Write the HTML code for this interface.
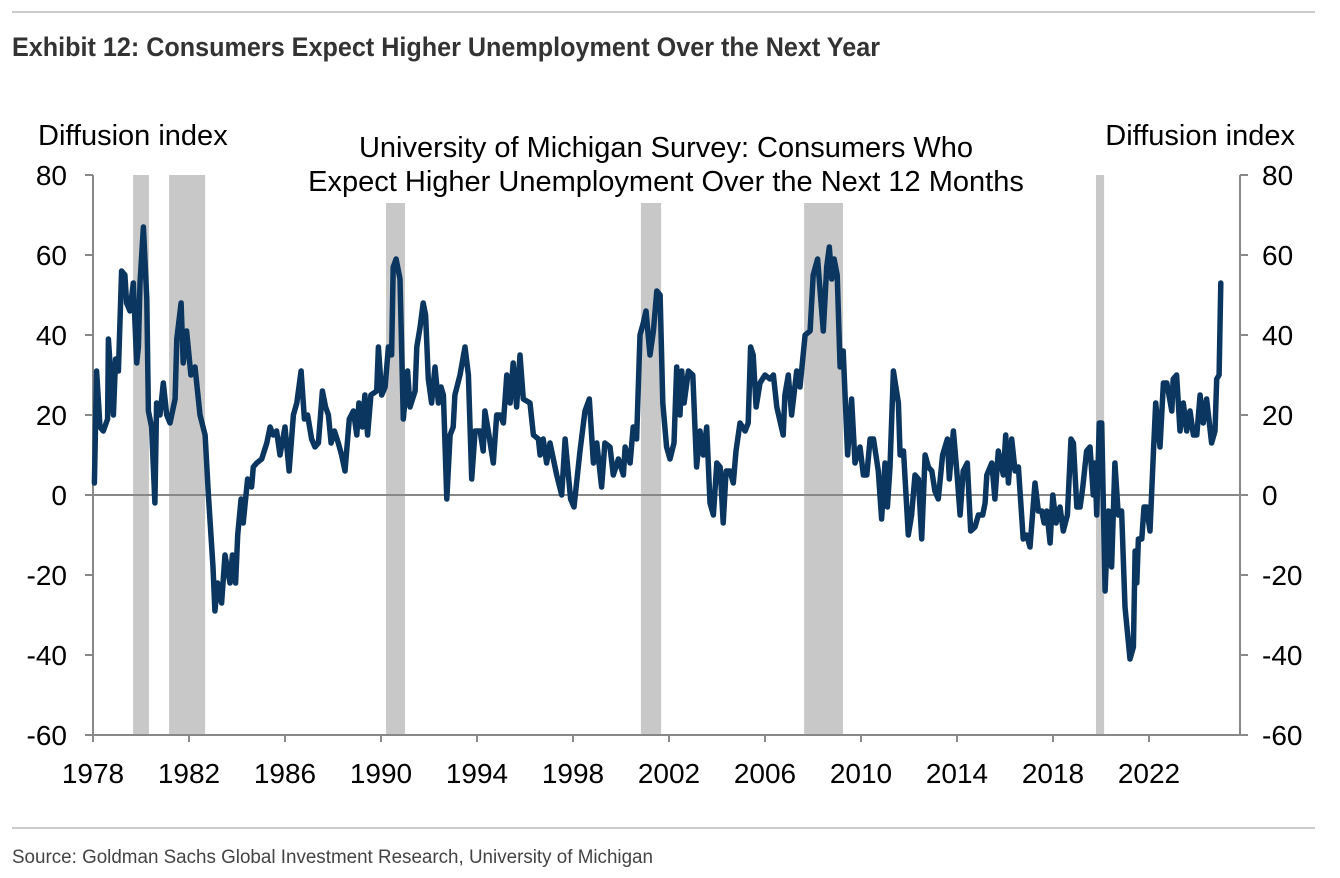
<!DOCTYPE html>
<html><head><meta charset="utf-8"><style>
body{margin:0;background:#fff;width:1340px;height:878px;overflow:hidden;font-family:"Liberation Sans",Arial,sans-serif}
svg{display:block}
</style></head><body>
<svg id="chart" width="1340" height="878">
<line x1="12" y1="12" x2="1315" y2="12" stroke="#999" stroke-width="1"/>
<text x="12" y="56" font-family="'Liberation Sans Narrow','Liberation Sans',sans-serif" font-weight="bold" font-size="27" fill="#333" textLength="868" lengthAdjust="spacingAndGlyphs">Exhibit 12: Consumers Expect Higher Unemployment Over the Next Year</text>
<text x="38" y="145" font-size="29" fill="#000">Diffusion index</text>
<text x="1295" y="145" font-size="29" fill="#000" text-anchor="end">Diffusion index</text>
<text x="666" y="157" font-size="29" fill="#000" text-anchor="middle">University of Michigan Survey: Consumers Who</text>
<text x="666" y="191" font-size="29" fill="#000" text-anchor="middle">Expect Higher Unemployment Over the Next 12 Months</text>
<g id="bands"></g>
<g id="axes"></g>
<g id="series"></g>
<line x1="12" y1="828" x2="1315" y2="828" stroke="#999" stroke-width="1"/>
<text x="12" y="863" font-family="'Liberation Sans Narrow','Liberation Sans',sans-serif" font-size="19" fill="#444" textLength="641" lengthAdjust="spacingAndGlyphs">Source: Goldman Sachs Global Investment Research, University of Michigan</text>
</svg>
<script>
const recessionStarts=[1979.67,1981.17,1990.21,2000.83,2007.63,2019.79];
const recessionEnds=[1980.33,1982.67,1991.0,2001.67,2009.25,2020.13];
const yTicks=[80,60,40,20,0,-20,-40,-60];
const xTicks=[1978,1982,1986,1990,1994,1998,2002,2006,2010,2014,2018,2022];
const years=[1978.06,1978.15,1978.29,1978.43,1978.61,1978.64,1978.85,1978.94,1979.06,1979.19,1979.33,1979.4,1979.54,1979.68,1979.82,1979.89,1979.96,1980.1,1980.24,1980.31,1980.44,1980.58,1980.65,1980.79,1980.93,1981.07,1981.21,1981.42,1981.49,1981.67,1981.76,1981.9,1982.08,1982.25,1982.46,1982.67,1982.81,1983.0,1983.08,1983.19,1983.36,1983.5,1983.71,1983.81,1983.94,1984.03,1984.17,1984.26,1984.44,1984.61,1984.68,1984.82,1985.03,1985.24,1985.38,1985.51,1985.65,1985.79,1986.0,1986.17,1986.35,1986.49,1986.67,1986.81,1986.94,1987.11,1987.25,1987.39,1987.56,1987.69,1987.81,1987.92,1988.06,1988.22,1988.36,1988.5,1988.68,1988.85,1988.99,1989.08,1989.22,1989.33,1989.44,1989.58,1989.82,1989.89,1990.03,1990.17,1990.31,1990.44,1990.51,1990.63,1990.79,1990.93,1991.11,1991.21,1991.42,1991.49,1991.63,1991.76,1991.86,1991.97,1992.11,1992.25,1992.39,1992.5,1992.6,1992.74,1992.88,1993.01,1993.08,1993.29,1993.5,1993.64,1993.78,1993.92,1994.06,
1994.13,1994.26,1994.33,1994.47,1994.68,1994.82,1994.96,1995.1,1995.24,1995.38,1995.51,1995.65,1995.79,1995.93,1996.21,1996.35,1996.56,1996.63,1996.76,1996.9,1997.04,1997.32,1997.53,1997.67,1997.9,1998.04,1998.29,1998.5,1998.68,1998.85,1998.99,1999.19,1999.33,1999.54,1999.68,1999.89,2000.1,2000.17,2000.38,2000.51,2000.65,2000.79,2000.93,2001.04,2001.21,2001.35,2001.49,2001.63,2001.74,2001.9,2002.04,2002.21,2002.32,2002.46,2002.53,2002.63,2002.81,2002.99,2003.15,2003.29,2003.43,2003.57,2003.71,2003.85,2003.99,2004.13,2004.26,2004.38,2004.54,2004.68,2004.79,2004.96,2005.17,2005.3,2005.4,2005.51,2005.63,2005.79,2006.0,2006.21,2006.35,2006.49,2006.76,2006.83,2006.97,2007.11,2007.32,2007.46,2007.67,2007.88,2008.01,2008.19,2008.43,2008.57,2008.68,2008.78,2008.88,2009.01,2009.13,2009.26,2009.44,2009.61,2009.75,
2009.96,2010.1,2010.24,2010.38,2010.52,2010.72,2010.86,2011.0,2011.1,2011.21,2011.35,2011.56,2011.63,2011.77,2011.97,2012.11,2012.25,2012.39,2012.53,2012.67,2012.81,2012.95,2013.08,2013.22,2013.4,2013.6,2013.68,2013.85,2013.99,2014.13,2014.26,2014.43,2014.57,2014.75,2014.89,2015.07,2015.17,2015.24,2015.45,2015.58,2015.72,2015.93,2016.03,2016.14,2016.28,2016.42,2016.56,2016.76,2016.9,2017.04,2017.25,2017.39,2017.53,2017.63,2017.74,2017.88,2017.99,2018.13,2018.29,2018.43,2018.6,2018.75,2018.85,2018.99,2019.13,2019.24,2019.4,2019.54,2019.68,2019.75,2019.82,2019.93,2020.03,2020.17,2020.31,2020.44,2020.58,2020.72,2020.86,2021.0,2021.21,2021.35,2021.42,2021.49,2021.56,2021.7,2021.79,2021.9,2022.04,2022.18,2022.28,2022.46,2022.6,2022.74,2022.95,2023.01,2023.15,2023.29,2023.43,2023.57,2023.71,2023.85,2023.99,2024.13,2024.26,2024.4,2024.61,2024.75,2024.82,2024.92,2024.99];
const values=[3,31,17,16,19,39,20,34,31,56,55,48,46,53,33,37,53,67,49,21,17,-2,23,20,28,20,18,24,39,48,33,41,30,32,20,15,0,-18,-29,-22,-27,-15,-22,-15,-22,-10,-1,-7,4,2,7,8,9,13,17,15,16,10,17,6,20,23,31,19,20,14,12,13,26,22,20,13,16,13,10,6,19,21,15,23,17,25,15,25,26,37,25,27,37,35,57,59,54,19,31,22,26,37,42,48,45,29,23,32,23,27,25,-1,15,17,25,30,37,30,4,16,16,
16,11,21,16,8,20,20,18,30,23,33,22,35,24,23,15,14,10,14,8,13,5,0,14,-1,-3,11,21,24,8,13,2,13,12,5,9,5,12,8,17,14,40,43,46,35,41,51,50,23,12,9,13,32,20,31,23,31,30,7,16,10,17,-2,-5,8,7,-7,6,6,3,11,18,16,18,37,35,22,28,30,29,30,22,15,25,30,20,31,27,40,41,55,59,41,57,62,54,59,55,32,36,10,24,8,
12,5,5,14,14,6,-6,8,-3,7,31,23,10,11,-10,-5,5,4,-11,10,7,6,1,-1,10,14,4,16,6,-5,6,8,-9,-8,-5,-5,-2,5,8,-1,11,5,15,3,14,6,7,-11,-10,-13,3,-4,-4,-7,-4,-12,0,-7,-3,-9,-5,14,13,-3,-3,2,11,12,0,8,-5,18,18,-24,-4,-18,8,-5,-4,-28,-41,-38,-14,-22,-11,-11,-3,-3,-9,10,23,12,28,28,21,29,30,16,23,16,21,15,15,25,18,24,13,16,29,30,53];

const X0=93,X1=1240,Y0=175,Y1=735,PXY=24;
function xs(yr){return X0+(yr-1978)*PXY;}
function ys(v){return Y0+(80-v)*(Y1-Y0)/140;}
const NS="http://www.w3.org/2000/svg";
function mk(tag,attrs,parent){const e=document.createElementNS(NS,tag);for(const k in attrs)e.setAttribute(k,attrs[k]);parent.appendChild(e);return e;}

const bands=document.getElementById('bands');
recessionStarts.forEach((s,i)=>{
  const e=recessionEnds[i];
  const top=(s>1985&&s<2015)?203:Y0;
  const r=mk('rect',{x:xs(s),y:top,width:xs(e)-xs(s),height:Y1-top,fill:'#c8c8c8'},bands);
  
  
});

const axes=document.getElementById('axes');
const zl=mk('line',{x1:X0,y1:ys(0),x2:X1,y2:ys(0),stroke:'#888','stroke-width':2},axes);


const la=mk('line',{x1:X0,y1:Y0,x2:X0,y2:Y1,stroke:'#888','stroke-width':2},axes);


const ra=mk('line',{x1:X1,y1:Y0,x2:X1,y2:Y1,stroke:'#888','stroke-width':2},axes);


const xa=mk('line',{x1:X0,y1:Y1,x2:X1,y2:Y1,stroke:'#888','stroke-width':2},axes);


yTicks.forEach(v=>{
  const y=ys(v);
  mk('line',{x1:X0-8,y1:y,x2:X0,y2:y,stroke:'#888','stroke-width':2},axes);
  mk('line',{x1:X1,y1:y,x2:X1+8,y2:y,stroke:'#888','stroke-width':2},axes);
  const t=mk('text',{x:67,y:y+10,'font-size':28,'text-anchor':'end',fill:'#000'},axes);
  t.textContent=v;
  
  
  const t2=mk('text',{x:1262,y:y+10,'font-size':28,fill:'#000'},axes);
  t2.textContent=v;
  
  
});
xTicks.forEach(yr=>{
  const x=xs(yr);
  mk('line',{x1:x,y1:Y1,x2:x,y2:Y1+7,stroke:'#888','stroke-width':2},axes);
  const t=mk('text',{x:x,y:783,'font-size':28,'text-anchor':'middle',fill:'#000'},axes);
  t.textContent=yr;
  
  
});

const series=document.getElementById('series');
const pts=years.map((yr,i)=>xs(yr).toFixed(1)+','+ys(values[i]).toFixed(1)).join(' ');
const pl=mk('polyline',{points:pts,fill:'none',stroke:'#0b365f','stroke-width':5.5,'stroke-linejoin':'round','stroke-linecap':'round'},series);


</script>
</body></html>
